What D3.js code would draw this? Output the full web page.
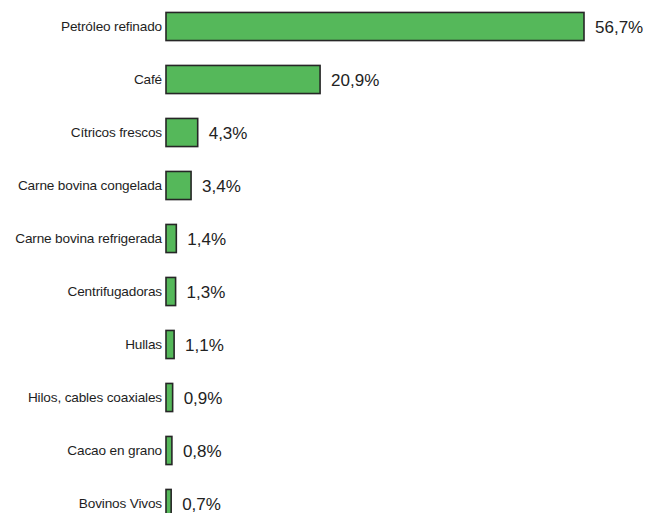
<!DOCTYPE html>
<html>
<head>
<meta charset="utf-8">
<script src="https://cdn.jsdelivr.net/npm/d3@7/dist/d3.min.js"></script>
<style>
  html, body { margin: 0; padding: 0; background: #fff; }
  svg { display: block; }
</style>
</head>
<body>
<div id="chart"></div>
<script>
// Principales productos exportados (% del total)
const categories = [
  "Petróleo refinado",
  "Café",
  "Cítricos frescos",
  "Carne bovina congelada",
  "Carne bovina refrigerada",
  "Centrifugadoras",
  "Hullas",
  "Hilos, cables coaxiales",
  "Cacao en grano",
  "Bovinos Vivos"
];
const values = [56.7, 20.9, 4.3, 3.4, 1.4, 1.3, 1.1, 0.9, 0.8, 0.7];
const valueLabels = ["56,7%", "20,9%", "4,3%", "3,4%", "1,4%", "1,3%", "1,1%", "0,9%", "0,8%", "0,7%"];

const width = 645, height = 513;
const data = categories.map((c, i) => ({ name: c, value: values[i], label: valueLabels[i] }));

const svg = d3.select("#chart").append("svg")
  .attr("width", width)
  .attr("height", height);

const x = d3.scaleLinear().domain([0, 56.7]).range([166, 584]);
const y = d3.scaleBand()
  .domain(categories)
  .range([0, 530])
  .paddingInner(0.47)
  .paddingOuter(0.235);

const g = svg.append("g");

// Bars
g.selectAll("rect.bar")
  .data(data)
  .join("rect")
  .attr("class", "bar")
  .attr("x", x(0))
  .attr("y", d => y(d.name))
  .attr("width", d => x(d.value) - x(0))
  .attr("height", y.bandwidth())
  .attr("fill", "#55b85a")
  .attr("stroke", "#262626")
  .attr("stroke-width", 1.6);

// Category labels (left of bars)
g.selectAll("text.cat")
  .data(data)
  .join("text")
  .attr("class", "cat")
  .attr("x", x(0) - 4)
  .attr("y", d => y(d.name) + y.bandwidth() / 2)
  .attr("dy", "0.35em")
  .attr("text-anchor", "end")
  .attr("font-family", "Liberation Sans, Arial, sans-serif")
  .attr("font-size", 13.6)
  .attr("letter-spacing", -0.15)
  .attr("fill", "#1e1e1e")
  .text(d => d.name);

// Value labels (right of bars)
g.selectAll("text.val")
  .data(data)
  .join("text")
  .attr("class", "val")
  .attr("x", d => x(d.value) + 11)
  .attr("y", d => y(d.name) + y.bandwidth() / 2 + 1)
  .attr("dy", "0.35em")
  .attr("font-family", "Liberation Sans, Arial, sans-serif")
  .attr("font-size", 17)
  .attr("fill", "#222")
  .text(d => d.label);
</script>
</body>
</html>
